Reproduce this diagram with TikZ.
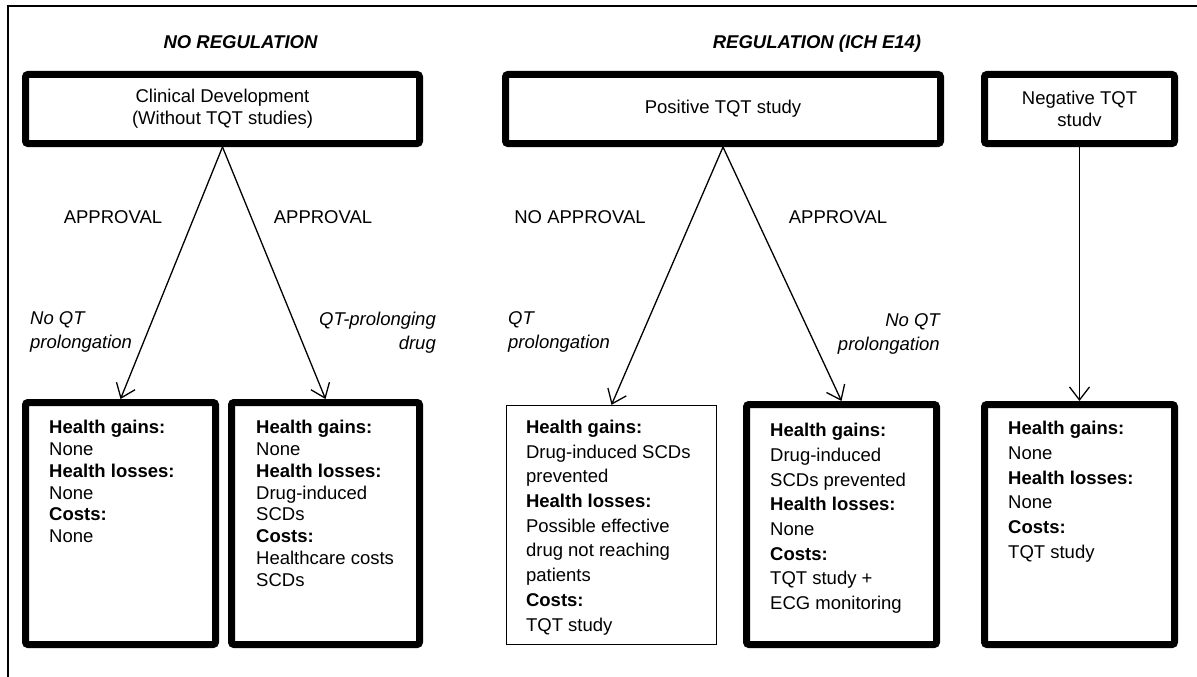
\documentclass[tikz,border=0pt]{standalone}
\usepackage{fontspec}
\setmainfont{Liberation Sans}
\usetikzlibrary{positioning, arrows.meta}

\begin{document}
\begin{tikzpicture}[
		x=1pt, y=-1pt,
		font=\fontsize{18.5}{22}\selectfont,
		% Style for the boxes
		heavybox/.style={draw, line width=7pt, rounded corners=2.5pt, align=center, inner sep=0pt},
		lightbox/.style={draw, line width=1.3pt, inner sep=0pt},
		% Texts inside the outcome boxes
		outcome/.style={align=left, inner sep=0pt, anchor=north west},
		outcome tight/.style={outcome, font=\fontsize{18.5}{21.8}\selectfont},
		outcome loose/.style={outcome, font=\fontsize{18.5}{24.7}\selectfont},
		% Titles, decisions and branch labels
		mainTitle/.style={font=\fontsize{18.5}{22}\selectfont\bfseries\itshape, anchor=base, inner sep=0pt},
		decision/.style={anchor=base, inner sep=0pt},
		branch label/.style={font=\fontsize{18.5}{24}\selectfont\itshape, inner sep=0pt},
		% Connectors
		arr/.style={line width=1.3pt, -{Straight Barb[length=13pt, width=20pt]}}
		]
		
		\useasboundingbox (0,0) rectangle (1197,677);
		\draw[line width=1.5pt] (8,677) -- (8,6) -- (1197,6);
		
		% Titles
		\node[mainTitle] (noreg) at (240.5,48.6) {NO REGULATION};
		\node[mainTitle] (reg) at (817,48.6) {REGULATION (ICH E14)};
		
		% Top boxes
		\node[heavybox, minimum width=394pt, minimum height=69pt] (clin) at (222.5,109) {Clinical Development\\(Without TQT studies)};
		\node[heavybox, minimum width=435pt, minimum height=69pt] (pos) at (723,109) {Positive TQT study};
		\node[heavybox, minimum width=190pt, minimum height=69pt] (neg) at (1079.5,109) {Negative TQT\\studv};
		
		% Outcome boxes
		\node[heavybox, minimum width=190pt, minimum height=242pt] (noqt) at (120.5,523.5) {};
		\node[heavybox, minimum width=188pt, minimum height=242pt] (qtdrug) at (325.5,523.5) {};
		\node[lightbox, minimum width=210pt, minimum height=239pt] (refused) at (611.5,525) {};
		\node[heavybox, minimum width=190pt, minimum height=240pt] (approved) at (841.5,524.5) {};
		\node[heavybox, minimum width=190pt, minimum height=240pt] (negout) at (1079.5,524.5) {};
		
		\node[outcome tight, below right=21pt and 27pt of noqt.north west] (noqt txt) {
			\textbf{Health gains:}\\None\\\textbf{Health losses:}\\None\\\textbf{Costs:}\\None};
		\node[outcome tight, below right=21pt and 28pt of qtdrug.north west] (qtdrug txt) {
			\textbf{Health gains:}\\None\\\textbf{Health losses:}\\Drug-induced\\SCDs\\\textbf{Costs:}\\Healthcare costs\\SCDs};
		\node[outcome loose, below right=15pt and 20pt of refused.north west] (refused txt) {
			\textbf{Health gains:}\\Drug-induced SCDs\\prevented\\\textbf{Health losses:}\\Possible effective\\drug not reaching\\patients\\\textbf{Costs:}\\TQT study};
		\node[outcome loose, below right=22pt and 27pt of approved.north west] (approved txt) {
			\textbf{Health gains:}\\Drug-induced\\SCDs prevented\\\textbf{Health losses:}\\None\\\textbf{Costs:}\\TQT study +\\ECG monitoring};
		\node[outcome loose, below right=20pt and 27pt of negout.north west] (negout txt) {
			\textbf{Health gains:}\\None\\\textbf{Health losses:}\\None\\\textbf{Costs:}\\TQT study};
		
		% Decisions
		\node[decision] (appr1) at (113,223.6) {APPROVAL};
		\node[decision] (appr2) at (323,223.6) {APPROVAL};
		\node[decision] (noappr) at (580,223.6) {NO APPROVAL};
		\node[decision] (appr3) at (838,223.6) {APPROVAL};
		
		% Branch labels
		\node[branch label, align=left, anchor=north west] (lbl noqt) at (30,311.4) {No QT\\prolongation};
		\node[branch label, align=right, anchor=north east] (lbl qtdrug) at (436,311.4) {QT-prolonging\\drug};
		\node[branch label, align=left, anchor=north west] (lbl refused) at (508,311.4) {QT\\prolongation};
		\node[branch label, align=right, anchor=north east] (lbl approved) at (940,313) {No QT\\prolongation};
		
		% Connectors
		\draw[arr] (clin.south) -- (noqt.north);
		\draw[arr] (clin.south) -- (qtdrug.north);
		\draw[arr] (pos.south) -- (refused.north);
		\draw[arr] (pos.south) -- (approved.north);
		\draw[arr] (neg.south) -- (negout.north);
	\end{tikzpicture}
\end{document}
